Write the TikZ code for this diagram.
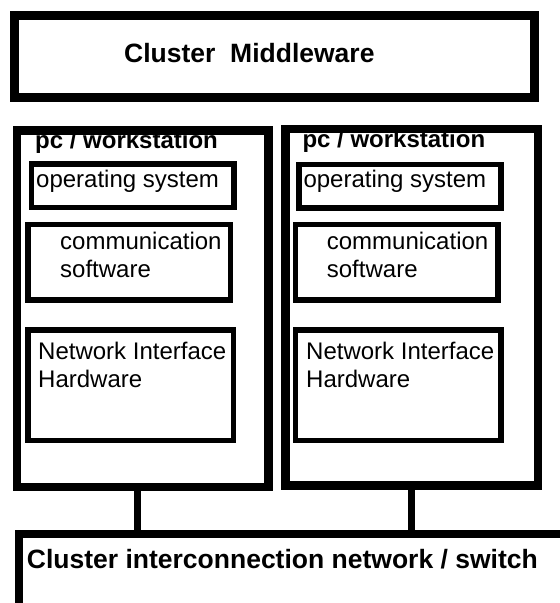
\documentclass[tikz,border=0pt]{standalone}
\usepackage{fontspec}
\setmainfont{Liberation Sans}
\begin{document}
\begin{tikzpicture}[x=1pt,y=-1pt,
  thickbox/.style={draw=black, line width=8.5pt, rectangle, inner sep=0pt},
  thinbox/.style={draw=black, line width=5.5pt, rectangle, inner sep=0pt},
  link/.style={draw=black, line width=7pt},
  boldtxt/.style={anchor=base west, inner sep=0pt, font=\fontsize{26.5}{30}\selectfont\bfseries},
  headtxt/.style={anchor=base west, inner sep=0pt, font=\fontsize{24}{28}\selectfont\bfseries},
  bodytxt/.style={anchor=base west, inner sep=0pt, font=\fontsize{24}{28}\selectfont}]
\useasboundingbox (0,0) rectangle (560,603);
\clip (0,0) rectangle (560,603);
\fill[white] (0,0) rectangle (560,603);

% boxes (corner coordinates of the stroke centre lines)
\node[thickbox, line width=9pt, minimum width=520.5pt, minimum height=82.3pt, anchor=north west] (mw) at (9.5,10.5) {};
\node[thickbox, minimum width=251.5pt, minimum height=356.5pt, anchor=north west] (pc1) at (12.5,126) {};
\node[thickbox, minimum width=252.5pt, minimum height=356.5pt, anchor=north west] (pc2) at (281,124.5) {};
\node[thinbox, minimum width=202.5pt, minimum height=43.7pt, anchor=north west] (os1) at (28.5,161) {};
\node[thinbox, minimum width=202.5pt, minimum height=75.5pt, anchor=north west] (cs1) at (25,221.5) {};
\node[thinbox, minimum width=205.5pt, minimum height=110.5pt, anchor=north west] (ni1) at (25,327) {};
\node[thinbox, minimum width=202pt, minimum height=43.5pt, anchor=north west] (os2) at (296,161.5) {};
\node[thinbox, minimum width=202.5pt, minimum height=75.5pt, anchor=north west] (cs2) at (292.5,221.5) {};
\node[thinbox, minimum width=205.5pt, minimum height=110.5pt, anchor=north west] (ni2) at (292.5,327) {};
\node[thickbox, line width=8pt, minimum width=549.3pt, minimum height=74pt, anchor=north west] (net) at (14.7,530) {};

% connectors
\coordinate (c1) at (137,0);
\coordinate (c2) at (411.5,0);
\draw[link] (pc1.south -| c1) -- (net.north -| c1);
\draw[link] (pc2.south -| c2) -- (net.north -| c2);

% texts
\node[boldtxt] (tmw) at (124,62) {Cluster\ \ Middleware};
\node[headtxt] (tpc1) at (35,148) {pc / workstation};
\node[headtxt] (tpc2) at (302.3,147.7) {pc / workstation};
\node[bodytxt] (tos1) at (36,187) {operating system};
\node[bodytxt] (tos2) at (303.3,187.5) {operating system};
\node[bodytxt] (tcs1a) at (60,249.5) {communication};
\node[bodytxt] (tcs1b) at (60,277) {software};
\node[bodytxt] (tcs2a) at (326.7,249.5) {communication};
\node[bodytxt] (tcs2b) at (326.7,277) {software};
\node[bodytxt] (tni1a) at (38,359.3) {Network Interface};
\node[bodytxt] (tni1b) at (38,387.7) {Hardware};
\node[bodytxt] (tni2a) at (306,359.3) {Network Interface};
\node[bodytxt] (tni2b) at (306,387.7) {Hardware};
\node[boldtxt] (tnet) at (26.7,568) {Cluster interconnection network / switch};
\end{tikzpicture}
\end{document}
